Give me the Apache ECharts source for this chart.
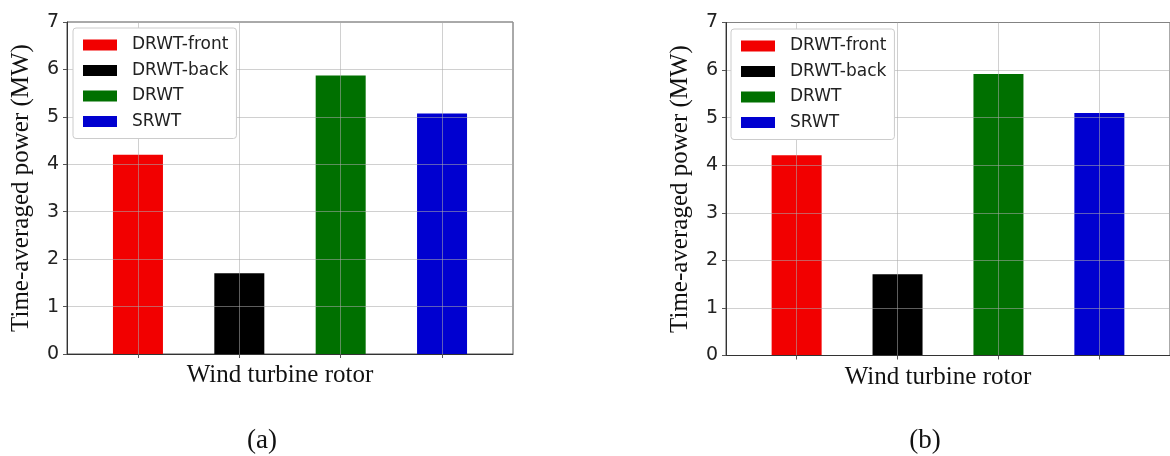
<!DOCTYPE html>
<html>
<head>
<meta charset="utf-8">
<script src="https://cdn.jsdelivr.net/npm/echarts@6/dist/echarts.min.js"></script>
<style>
  html, body { margin: 0; padding: 0; background: #fff; }
  #chart { width: 1170px; height: 456px; }
</style>
</head>
<body>
<div id="chart"></div>
<script>
// Rotor configurations and their time-averaged power (MW) for the two cases
const rotors = ['DRWT-front', 'DRWT-back', 'DRWT', 'SRWT'];
const powerA = [4.2, 1.7, 5.87, 5.07];
const powerB = [4.21, 1.71, 5.92, 5.1];
const rotorColors = ['#f20000', '#000000', '#007000', '#0000d0'];
const yTickMax = 7;
const panelLabels = ['(a)', '(b)'];
const yTitle = 'Time-averaged power (MW)';
const xTitle = 'Wind turbine rotor';

const panels = [
  { values: powerA, grid: { left: 67, top: 22, width: 446, height: 332 }, legend: { left: 73, top: 28 }, label: { x: 262, y: 441 } },
  { values: powerB, grid: { left: 726, top: 22.5, width: 449, height: 333 }, legend: { left: 731, top: 29 }, label: { x: 925, y: 441 } }
];

const positions = rotors.map((_, i) => i);
const sans = 'DejaVu Sans';
const serif = 'Liberation Serif';
const gridLine = { color: 'rgba(170,170,170,0.55)', width: 1 };

const option = {
  animation: false,
  backgroundColor: '#fff',
  grid: panels.map(p => Object.assign({ show: true, borderColor: '#555', borderWidth: 1, backgroundColor: 'transparent' }, p.grid)),
  xAxis: panels.map((p, k) => ({
    type: 'value', gridIndex: k, min: -0.7, max: 3.7, z: 3,
    name: xTitle, nameLocation: 'middle', nameGap: 9,
    nameTextStyle: { fontFamily: serif, fontSize: 25, color: '#111', padding: [0, 20, 0, 0] },
    axisLine: { show: true, onZero: false, lineStyle: { color: '#333', width: 1 } },
    axisTick: { show: true, length: 4, customValues: positions, lineStyle: { color: '#555' } },
    axisLabel: { show: false, customValues: positions },
    splitLine: { show: true, lineStyle: gridLine }
  })),
  yAxis: panels.map((p, k) => ({
    type: 'value', gridIndex: k, min: 0, max: yTickMax, interval: 1, z: 3,
    name: yTitle, nameLocation: 'middle', nameGap: 33,
    nameTextStyle: { fontFamily: serif, fontSize: 25, color: '#111' },
    axisLine: { show: true, onZero: false, lineStyle: { color: '#333', width: 1 } },
    axisTick: { show: true, length: 4, lineStyle: { color: '#555' } },
    axisLabel: { fontFamily: sans, fontSize: 19, color: '#222', margin: 8 },
    splitLine: { show: true, lineStyle: gridLine }
  })),
  legend: panels.map(p => ({
    data: rotors, orient: 'vertical', left: p.legend.left, top: p.legend.top, z: 5,
    icon: 'rect', itemWidth: 34, itemHeight: 11, itemGap: 8.5,
    padding: [8.5, 8, 8.5, 10],
    backgroundColor: '#fff', borderColor: '#ccc', borderWidth: 1, borderRadius: 3,
    textStyle: { fontFamily: sans, fontSize: 17, lineHeight: 17, color: '#222', padding: [0, 0, 0, 10] }
  })),
  series: panels.flatMap((p, k) => rotors.map((name, i) => ({
    type: 'bar', name, xAxisIndex: k, yAxisIndex: k, z: 2,
    barWidth: 50, barGap: '-100%',
    itemStyle: { color: rotorColors[i] },
    data: [[positions[i], p.values[i]]]
  }))),
  graphic: panels.map((p, k) => ({
    type: 'text', x: p.label.x, y: p.label.y,
    style: { text: panelLabels[k], fontFamily: serif, fontSize: 27, fill: '#111', align: 'center', verticalAlign: 'middle' }
  }))
};

const chart = echarts.init(document.getElementById('chart'), null, { renderer: 'canvas' });
chart.setOption(option);
</script>
</body>
</html>
